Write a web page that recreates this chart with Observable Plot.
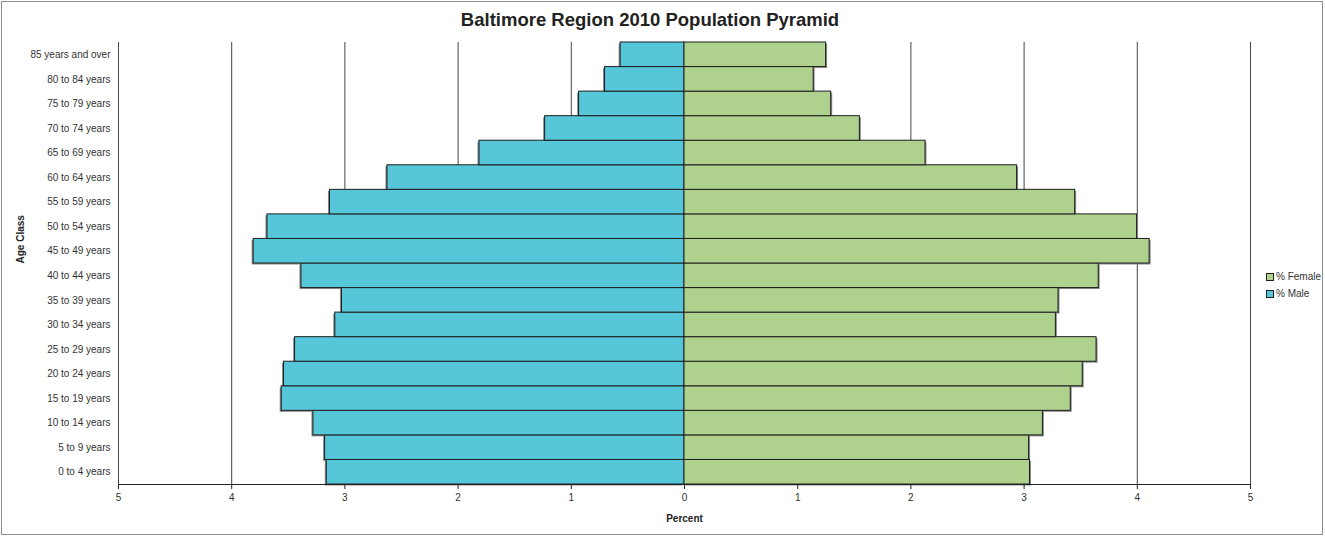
<!DOCTYPE html>
<html>
<head>
<meta charset="utf-8">
<script src="https://cdn.jsdelivr.net/npm/d3@7"></script>
<script src="https://cdn.jsdelivr.net/npm/@observablehq/plot@0.6"></script>
<style>
  html, body { margin: 0; padding: 0; background: #fff; }
  #wrap { position: relative; width: 1325px; height: 537px; overflow: hidden; font-family: "Liberation Sans", Arial, sans-serif; }
  #border { position: absolute; left: 1px; top: 1px; width: 1320px; height: 532px; border: 1.5px solid #8c8c8c; pointer-events: none; }
  #title { position: absolute; top: 10px; left: 650px; transform: translateX(-50%); font-weight: bold; font-size: 18.5px; line-height: 20px; color: #222; white-space: nowrap; }
  #legend { position: absolute; left: 1266px; top: 268px; font-size: 10px; color: #333; }
  #legend .item { display: flex; align-items: center; height: 17px; }
  #legend .sw { width: 6px; height: 6px; border: 1px solid #222; margin-right: 2px; }
  #chart { position: absolute; left: 0; top: 0; }
</style>
</head>
<body>
<div id="wrap">
  <div id="chart"></div>
  <div id="title">Baltimore Region 2010 Population Pyramid</div>
  <div id="legend"></div>
  <div id="border"></div>
</div>
<script>
const ages = ["0 to 4 years", "5 to 9 years", "10 to 14 years", "15 to 19 years", "20 to 24 years",
  "25 to 29 years", "30 to 34 years", "35 to 39 years", "40 to 44 years", "45 to 49 years",
  "50 to 54 years", "55 to 59 years", "60 to 64 years", "65 to 69 years", "70 to 74 years",
  "75 to 79 years", "80 to 84 years", "85 years and over"];
const malePct = [3.160, 3.175, 3.278, 3.558, 3.538, 3.440, 3.085, 3.026, 3.384, 3.806,
  3.684, 3.132, 2.624, 1.811, 1.231, 0.931, 0.702, 0.564];
const femalePct = [3.052, 3.044, 3.166, 3.412, 3.518, 3.640, 3.281, 3.304, 3.659, 4.109,
  3.998, 3.451, 2.938, 2.129, 1.549, 1.296, 1.141, 1.251];
const xTicks = [-5, -4, -3, -2, -1, 0, 1, 2, 3, 4, 5];
const gridTicks = [-5, -4, -3, -2, -1, 1, 2, 3, 4, 5];
const seriesNames = ["% Female", "% Male"];
const seriesColors = ["#AED28E", "#55C7D9"];

const rows = ages.map((a, i) => ({age: a, male: malePct[i], female: femalePct[i]}));
const order = ages.slice().reverse();

const chart = Plot.plot({
  width: 1325,
  height: 537,
  marginLeft: 118,
  marginRight: 75,
  marginTop: 42,
  marginBottom: 53,
  style: {fontFamily: "'Liberation Sans', Arial, sans-serif", fontSize: "10px", color: "#333", background: "transparent"},
  x: {domain: [-5, 5]},
  y: {domain: order, padding: 0, round: false},
  marks: [
    Plot.ruleX(gridTicks, {x: d => d, stroke: "#444", strokeWidth: 1}),
    Plot.barX(rows, {y: "age", x1: 0, x2: d => -d.male, fill: "#8a8a8a", dx: -1.5, dy: 1.5}),
    Plot.barX(rows, {y: "age", x1: 0, x2: "female", fill: "#8a8a8a", dx: 1.5, dy: 1.5}),
    Plot.barX(rows, {y: "age", x1: 0, x2: d => -d.male, fill: seriesColors[1], stroke: "#1e1e1e", strokeWidth: 1}),
    Plot.barX(rows, {y: "age", x1: 0, x2: "female", fill: seriesColors[0], stroke: "#1e1e1e", strokeWidth: 1}),
    Plot.frame({anchor: "bottom", stroke: "#222"}),
    Plot.axisX({ticks: xTicks, tickFormat: d => Math.abs(d), tickSize: 5, tickPadding: 4, label: null, stroke: "#222"}),
    Plot.axisY({tickSize: 0, tickPadding: 8, label: null}),
    Plot.text(["Percent"], {frameAnchor: "bottom", dy: 37, fontWeight: "bold", fill: "#222"}),
    Plot.text(["Age Class"], {frameAnchor: "left", dx: -98, rotate: -90, fontWeight: "bold", fill: "#222"})
  ]
});
document.getElementById("chart").appendChild(chart);

const legend = document.getElementById("legend");
seriesNames.forEach((name, i) => {
  const item = document.createElement("div");
  item.className = "item";
  const sw = document.createElement("span");
  sw.className = "sw";
  sw.style.background = seriesColors[i];
  const t = document.createElement("span");
  t.textContent = name;
  item.appendChild(sw);
  item.appendChild(t);
  legend.appendChild(item);
});
</script>
</body>
</html>
